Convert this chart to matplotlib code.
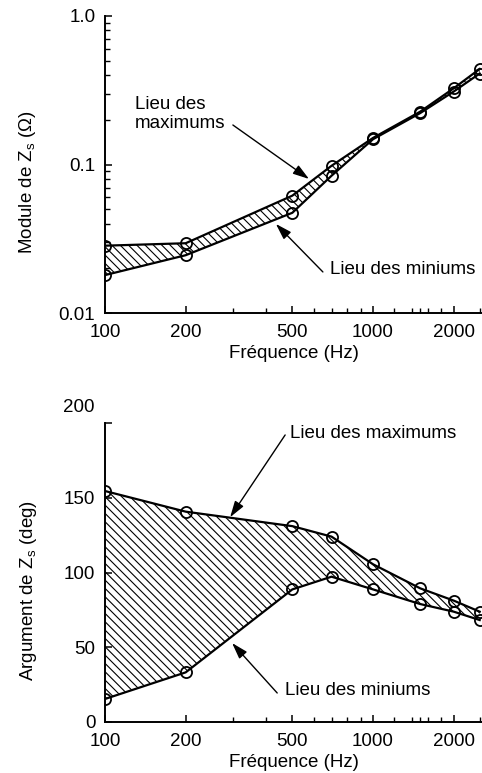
import matplotlib
matplotlib.use("Agg")
import matplotlib.pyplot as plt
from matplotlib.ticker import FixedLocator, FixedFormatter, NullFormatter, LogLocator

plt.rcParams['font.family'] = ['Liberation Sans', 'DejaVu Sans']
plt.rcParams['mathtext.fontset'] = 'custom'
plt.rcParams['mathtext.rm'] = 'Liberation Sans'
plt.rcParams['mathtext.default'] = 'regular'
plt.rcParams['hatch.linewidth'] = 0.8
plt.rcParams['font.size'] = 13.5

# Frequencies (Hz)
freq = [100, 200, 500, 700, 1000, 1500, 2000, 2500]

# Module of Zs (ohm): upper and lower envelopes
mod_max = [0.0284, 0.0295, 0.0617, 0.098, 0.151, 0.227, 0.326, 0.44]
mod_min = [0.018, 0.0245, 0.0473, 0.084, 0.148, 0.222, 0.31, 0.41]

# Argument of Zs (deg): upper and lower envelopes
arg_max = [154.5, 140.7, 131.0, 124.0, 105.5, 89.4, 81.2, 73.8]
arg_min = [15.4, 33.2, 88.7, 97.2, 88.7, 78.9, 73.8, 68.2]

x_major = [100, 200, 500, 1000, 2000]
x_minor = [300, 400, 600, 700, 800, 900, 1200, 1400, 1500, 1600, 1800, 2500]

W, H = 482, 773
fig = plt.figure(figsize=(W / 100, H / 100), dpi=100)

ax1 = fig.add_axes([105 / W, 1 - 313 / H, (W - 105) / W, 297 / H])
ax2 = fig.add_axes([105 / W, 1 - 722 / H, (W - 105) / W, 299 / H])


def style_axes(ax):
    ax.set_xscale('log')
    ax.set_xlim(100, 2550)
    for s in ['top', 'right']:
        ax.spines[s].set_visible(False)
    for s in ['left', 'bottom']:
        ax.spines[s].set_linewidth(1.4)
    ax.xaxis.set_major_locator(FixedLocator(x_major))
    ax.xaxis.set_major_formatter(FixedFormatter([str(v) for v in x_major]))
    ax.xaxis.set_minor_locator(FixedLocator(x_minor))
    ax.xaxis.set_minor_formatter(NullFormatter())
    ax.tick_params(axis='both', which='major', direction='in', length=5, width=1.1)
    ax.tick_params(axis='both', which='minor', direction='in', length=3.5, width=1.0)
    ax.tick_params(axis='x', which='major', pad=8)
    ax.tick_params(axis='y', which='major', pad=7)
    ax.set_xlabel('Fréquence (Hz)', labelpad=3)


def draw_band(ax, lo, hi):
    ax.fill_between(freq, lo, hi, facecolor='none', edgecolor='black',
                    hatch='\\\\\\\\', linewidth=0, zorder=1)
    for series in (hi, lo):
        ax.plot(freq, series, color='black', lw=1.6, marker='o', ms=8,
                mfc='none', mec='black', mew=1.3, zorder=3)


def arrow(ax, tail, tip):
    ax.annotate('', xy=tip, xytext=tail,
                arrowprops=dict(arrowstyle='-|>,head_length=0.7,head_width=0.22',
                                color='black', lw=1.0, mutation_scale=14,
                                shrinkA=0, shrinkB=0))


# Module plot
style_axes(ax1)
ax1.set_yscale('log')
ax1.set_ylim(0.01, 1.0)
ax1.yaxis.set_major_locator(FixedLocator([0.01, 0.1, 1.0]))
ax1.yaxis.set_major_formatter(FixedFormatter(['0.01', '0.1', '1.0']))
ax1.yaxis.set_minor_locator(LogLocator(base=10, subs=range(2, 10)))
ax1.yaxis.set_minor_formatter(NullFormatter())
draw_band(ax1, mod_min, mod_max)
ax1.set_ylabel('Module de $Z_s$ (Ω)')
ax1.yaxis.set_label_coords(-0.178, 0.44)

ax1.text(129, 0.219, 'Lieu des\nmaximums', ha='left', va='center', linespacing=1.15)
arrow(ax1, (300, 0.1845), (577, 0.0799))
ax1.text(691, 0.0195, 'Lieu des miniums', ha='left', va='center')
arrow(ax1, (650, 0.0189), (434, 0.0398))

# Argument plot
style_axes(ax2)
ax2.set_ylim(0, 200)
ax2.yaxis.set_major_locator(FixedLocator([0, 50, 100, 150, 200]))
ax2.yaxis.set_major_formatter(FixedFormatter(['0', '50', '100', '150', '']))
ax2.annotate('200', xy=(0, 200), xycoords=('axes fraction', 'data'),
             xytext=(-10, 16), textcoords='offset pixels', ha='right', va='center')
draw_band(ax2, arg_min, arg_max)
ax2.set_ylabel('Argument de $Z_s$ (deg)')
ax2.yaxis.set_label_coords(-0.175, 0.44)

ax2.text(490, 193.3, 'Lieu des maximums', ha='left', va='center')
arrow(ax2, (470, 192), (293, 137))
ax2.text(470, 21.4, 'Lieu des miniums', ha='left', va='center')
arrow(ax2, (439, 19.4), (298, 52.8))

fig.savefig('out.png', dpi=100)
